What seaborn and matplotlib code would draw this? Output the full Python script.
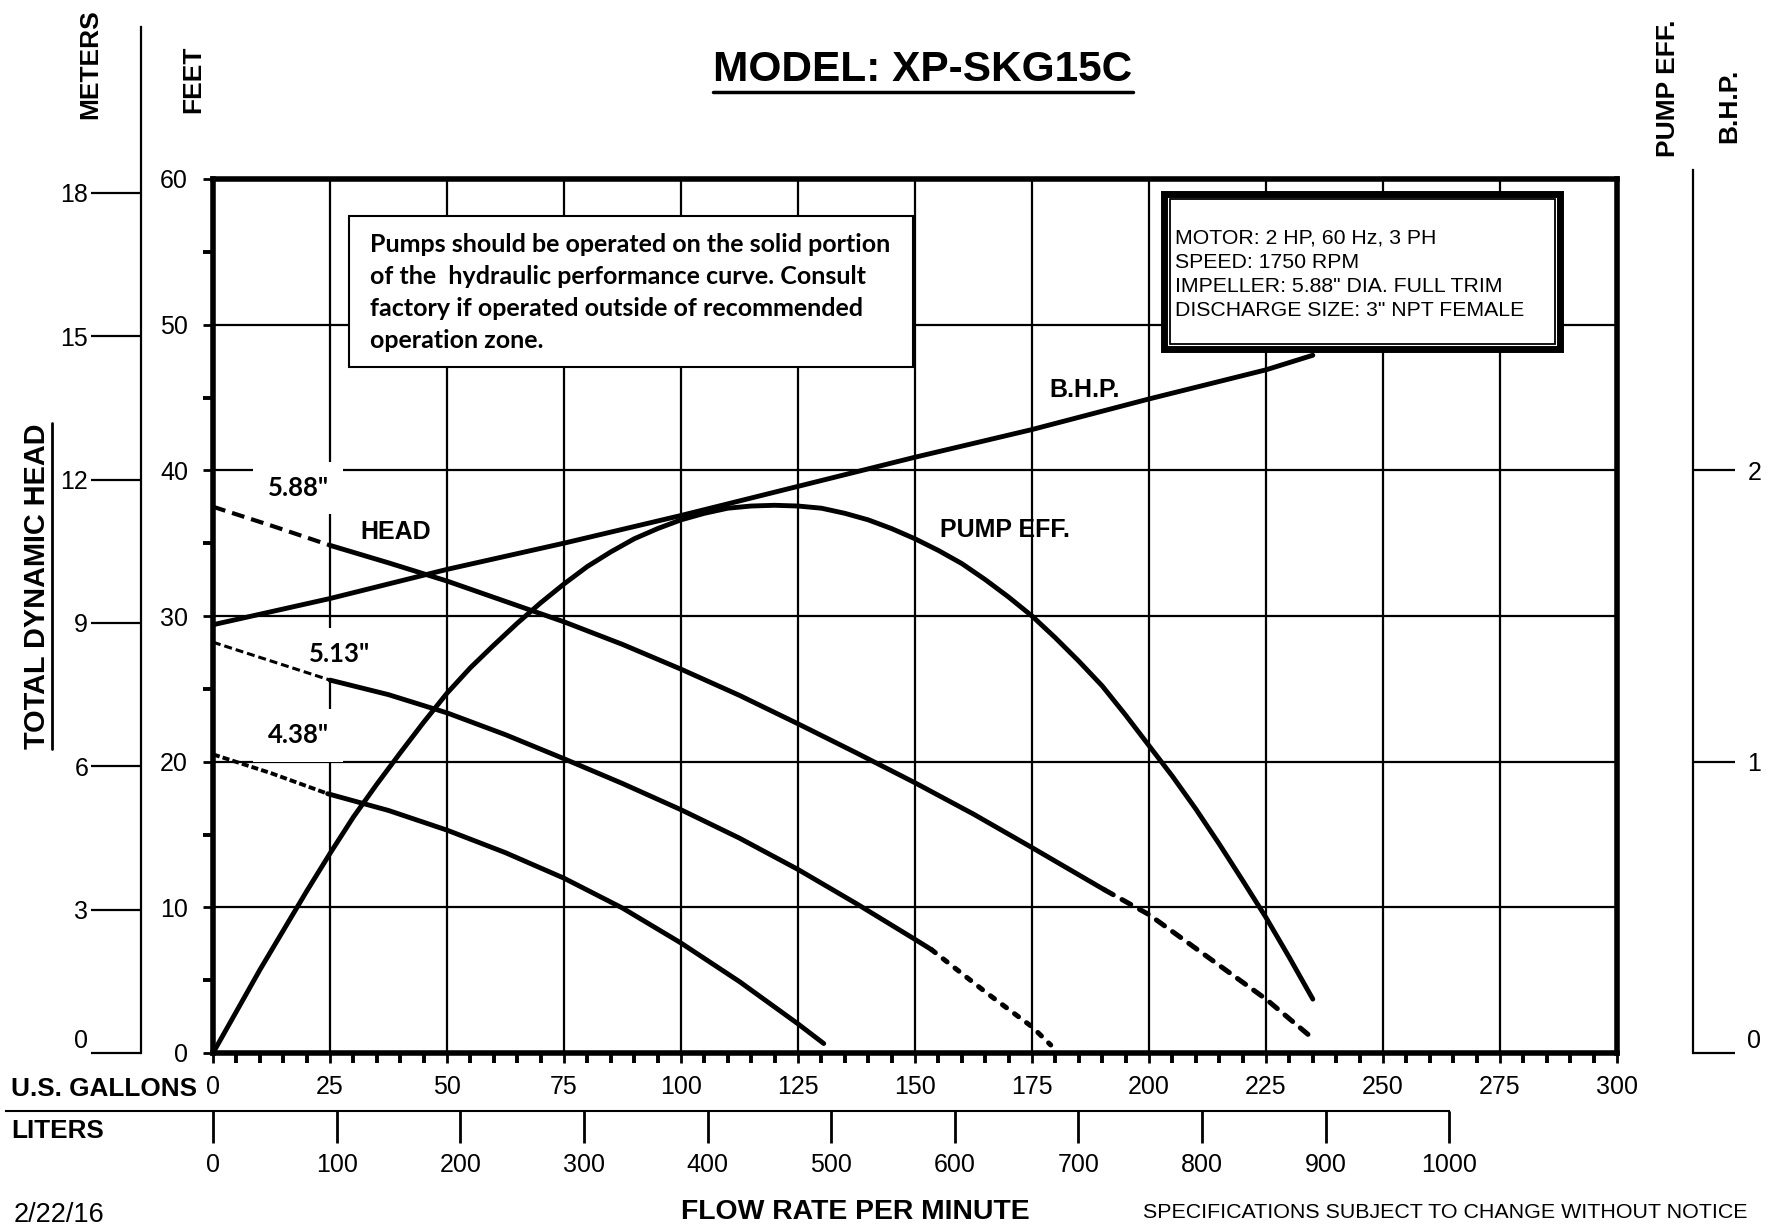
import matplotlib
matplotlib.use("Agg")
import matplotlib.pyplot as plt
from matplotlib.patches import Rectangle
from matplotlib.lines import Line2D
import seaborn as sns

# curves: flow in US gpm, head in feet
flow_588_lo = [0, 12.5, 25]
head_588_lo = [37.5, 36.2, 34.85]
flow_588 = [25, 37.5, 50, 62.5, 75, 87.5, 100, 112.5, 125, 137.5, 150, 162.5, 175, 190.5]
head_588 = [34.85, 33.65, 32.4, 31.0, 29.6, 28.05, 26.35, 24.55, 22.6, 20.6, 18.55, 16.4,
            14.1, 11.2]
flow_588_hi = [190.5, 200, 212.5, 225, 235]
head_588_hi = [11.2, 9.5, 6.6, 3.7, 1.0]

flow_513_lo = [0, 12.5, 25]
head_513_lo = [28.2, 26.9, 25.6]
flow_513 = [25, 37.5, 50, 62.5, 75, 87.5, 100, 112.5, 125, 137.5, 150, 153.5]
head_513 = [25.6, 24.6, 23.35, 21.85, 20.2, 18.5, 16.7, 14.75, 12.6, 10.25, 7.8, 7.1]
flow_513_hi = [153.5, 165, 175, 179]
head_513_hi = [7.1, 4.2, 1.8, 0.55]

flow_438_lo = [0, 12.5, 24.5]
head_438_lo = [20.5, 19.2, 17.8]
flow_438 = [24.5, 37.5, 50, 62.5, 75, 87.5, 100, 112.5, 125, 130.5]
head_438 = [17.8, 16.65, 15.3, 13.75, 12.0, 9.95, 7.55, 4.9, 2.0, 0.65]

# pump efficiency (%)
flow_eff = [0, 10, 20, 25, 30, 35, 40, 45, 50, 55, 60, 65, 70, 75, 80, 85, 90, 95,
            100, 105, 110, 115, 120, 125, 130, 135, 140, 145, 150, 155, 160, 165, 170,
            175, 180, 185, 190, 195, 200, 205, 210, 215, 220, 225, 230, 235]
eff = [0, 5.7, 11.1, 13.7, 16.2, 18.45, 20.6, 22.7, 24.7, 26.45, 28.0, 29.5, 30.9,
       32.2, 33.4, 34.4, 35.3, 36.0, 36.6, 37.05, 37.4, 37.55, 37.6, 37.55, 37.4,
       37.05, 36.6, 36.0, 35.3, 34.5, 33.6, 32.5, 31.3, 30.0, 28.5, 26.9, 25.2, 23.2,
       21.1, 19.0, 16.75, 14.35, 11.85, 9.3, 6.55, 3.7]

# brake horsepower
flow_bhp = [0, 25, 50, 75, 100, 125, 150, 175, 200, 225, 235]
bhp = [1.47, 1.56, 1.66, 1.75, 1.845, 1.945, 2.045, 2.14, 2.245, 2.345, 2.395]

gal_ticks = list(range(0, 301, 25))
feet_ticks = list(range(0, 61, 10))
meter_ticks = list(range(0, 19, 3))
liter_ticks = list(range(0, 1001, 100))
bhp_ticks = [0, 1, 2]

M_PER_FT = 0.3048
L_PER_GAL = 3.78541
HP_FULL = 3  # 3 hp at the top of the 60 ft grid

spec_text = ('MOTOR: 2 HP, 60 Hz, 3 PH\nSPEED: 1750 RPM\n'
             'IMPELLER: 5.88" DIA. FULL TRIM\nDISCHARGE SIZE: 3" NPT FEMALE')
note_text = ('Pumps should be operated on the solid portion\n'
             'of the  hydraulic performance curve. Consult\n'
             'factory if operated outside of recommended\n'
             'operation zone.')

sns.set_style('white', rc={'axes.edgecolor': 'black', 'text.color': 'black',
                           'xtick.color': 'black', 'ytick.color': 'black',
                           'axes.labelcolor': 'black'})
plt.rcParams['font.family'] = ['Liberation Sans', 'DejaVu Sans']
CAL = ['Lato', 'DejaVu Sans']

W, H = 1775, 1225


def fx(px):
    return px / W


def fy(py):
    return 1 - py / H


fig = plt.figure(figsize=(W / 100, H / 100), dpi=100)

# main grid: gallons vs feet
L0, R0, T0, B0 = 213, 1617, 179, 1053
ax = fig.add_axes([fx(L0), fy(B0), fx(R0) - fx(L0), fy(T0) - fy(B0)])
ax.set_xlim(0, 300)
ax.set_ylim(0, 60)
ax.set_xticks(gal_ticks)
ax.set_yticks(feet_ticks)
ax.set_xticks(range(0, 301, 5), minor=True)
ax.set_yticks(range(0, 61, 5), minor=True)
ax.grid(True, which='major', color='black', lw=1.6)
ax.set_axisbelow(True)
for s in ax.spines.values():
    s.set_visible(True)
    s.set_linewidth(4)
ax.tick_params(which='major', direction='out', length=7, width=2, labelsize=18)
ax.tick_params(which='minor', direction='out', length=7, width=2.8)
ax.tick_params(axis='y', which='both', left=True, right=True, labelleft=True,
               labelright=True, pad=11)
ax.tick_params(axis='x', which='both', bottom=True, top=False, pad=9)

solid = dict(color='black', lw=3.5, solid_capstyle='round', solid_joinstyle='round')
sns.lineplot(x=flow_588, y=head_588, ax=ax, **solid)
sns.lineplot(x=flow_513, y=head_513, ax=ax, **solid)
sns.lineplot(x=flow_438, y=head_438, ax=ax, **solid)
sns.lineplot(x=flow_eff, y=eff, ax=ax, **solid)
sns.lineplot(x=flow_588_lo, y=head_588_lo, ax=ax, color='black', lw=3,
             linestyle=(0, (3.1, 1.7)))
sns.lineplot(x=flow_513_lo, y=head_513_lo, ax=ax, color='black', lw=2.2,
             linestyle=(0, (2.6, 1.3)))
sns.lineplot(x=flow_438_lo, y=head_438_lo, ax=ax, color='black', lw=2.8,
             linestyle=(0, (1.8, 0.8)))
sns.lineplot(x=flow_588_hi, y=head_588_hi, ax=ax, color='black', lw=3.6,
             linestyle=(0, (2.0, 2.0)), dash_capstyle='round')
sns.lineplot(x=flow_513_hi, y=head_513_hi, ax=ax, color='black', lw=3.6,
             linestyle=(0, (1.0, 2.0)), dash_capstyle='round')
ax.set_xlabel('')
ax.set_ylabel('')

# bhp drawn on its own 0-3 scale over the same box
axb = ax.twinx()
axb.set_ylim(0, HP_FULL)
sns.lineplot(x=flow_bhp, y=bhp, ax=axb, **solid)
axb.set_axis_off()

# curve labels
lab_box = dict(facecolor='white', edgecolor='none', boxstyle='square,pad=0.55')
ax.text(18.2, 38.8, '5.88"', fontsize=18.5, fontweight='bold', family=CAL,
        ha='center', va='center', bbox=lab_box, zorder=1.5)
ax.text(27.1, 27.4, '5.13"', fontsize=18.5, fontweight='bold', family=CAL,
        ha='center', va='center', bbox=lab_box, zorder=1.5)
ax.text(18.2, 21.8, '4.38"', fontsize=18.5, fontweight='bold', family=CAL,
        ha='center', va='center', bbox=lab_box, zorder=1.5)
ax.text(39, 35.8, 'HEAD', fontsize=18, fontweight='bold', ha='center', va='center')
ax.text(169.2, 35.9, 'PUMP EFF.', fontsize=18, fontweight='bold', ha='center', va='center')
ax.text(186.3, 45.5, 'B.H.P.', fontsize=18, fontweight='bold', ha='center', va='center')

# note box
ax.add_patch(Rectangle((29.06, 47.09), 149.6 - 29.06, 57.46 - 47.09, lw=1.5,
                       ec='black', fc='white', zorder=5))
ax.text(33.5, 52.2, note_text, fontsize=18, fontweight='bold', family=CAL,
        ha='left', va='center', linespacing=1.48, zorder=6)

# spec box with double border
ax.add_patch(Rectangle((203.3, 48.3), 287.9 - 203.3, 58.94 - 48.3, lw=5,
                       ec='black', fc='white', zorder=5))
ax.add_patch(Rectangle((204.5, 48.67), 286.8 - 204.5, 58.63 - 48.67, lw=1.3,
                       ec='black', fc='none', zorder=6))
ax.text(205.6, 53.45, spec_text, fontsize=15.3, ha='left', va='center',
        linespacing=1.33, zorder=7)

h_main = B0 - T0

# meters scale on the far left
MT = 27
axm = fig.add_axes([fx(141), fy(B0), 1e-4, fy(MT) - fy(B0)])
axm.set_ylim(0, 60 * (B0 - MT) / h_main * M_PER_FT)
axm.patch.set_visible(False)
for k in ['top', 'right', 'bottom']:
    axm.spines[k].set_visible(False)
axm.spines['left'].set_linewidth(1.6)
axm.xaxis.set_visible(False)
axm.set_yticks(meter_ticks, labels=[str(v) for v in meter_ticks])
axm.tick_params(axis='y', left=True, right=False, direction='out', length=36,
                width=1.6, labelsize=18, pad=2)
for lbl in axm.get_yticklabels():
    if lbl.get_text() == '0':
        lbl.set_verticalalignment('bottom')

# bhp scale on the far right
HT = 170
axh = fig.add_axes([fx(1693), fy(B0), 1e-4, fy(HT) - fy(B0)])
axh.set_ylim(0, HP_FULL * (B0 - HT) / h_main)
axh.patch.set_visible(False)
for k in ['top', 'left', 'bottom']:
    axh.spines[k].set_visible(False)
axh.spines['right'].set_linewidth(1.6)
axh.xaxis.set_visible(False)
axh.yaxis.tick_right()
axh.set_yticks(bhp_ticks, labels=[str(v) for v in bhp_ticks])
axh.tick_params(axis='y', right=True, left=False, labelright=True, labelleft=False,
                direction='out', length=30, width=1.6, labelsize=18, pad=9)
for lbl in axh.get_yticklabels():
    if lbl.get_text() == '0':
        lbl.set_verticalalignment('bottom')

# liters scale under the gallons
LL, LY = 6, 1111
axl = fig.add_axes([fx(LL), fy(LY), fx(R0) - fx(LL), 1e-4])
l_per_px = 300 * L_PER_GAL / (R0 - L0)
xl0 = -(L0 - LL) * l_per_px
axl.set_xlim(xl0, 300 * L_PER_GAL)
axl.patch.set_visible(False)
for k in ['top', 'left', 'right']:
    axl.spines[k].set_visible(False)
axl.spines['bottom'].set_linewidth(1.5)
axl.spines['bottom'].set_bounds(xl0, liter_ticks[-1])
axl.yaxis.set_visible(False)
axl.set_xticks(liter_ticks)
axl.tick_params(axis='x', bottom=True, top=False, direction='out', length=23,
                width=2, labelsize=18, pad=7)

# page texts
title = fig.text(fx(923), fy(70), 'MODEL: XP-SKG15C', fontsize=30.5, fontweight='bold',
                 ha='center', va='center')
fig.text(fx(90), fy(64), 'METERS', fontsize=19, fontweight='bold', rotation=90,
         ha='center', va='center')
fig.text(fx(193), fy(79), 'FEET', fontsize=19, fontweight='bold', rotation=90,
         ha='center', va='center')
tdh = fig.text(fx(37), fy(586), 'TOTAL DYNAMIC HEAD', fontsize=20.8, fontweight='bold',
               rotation=90, ha='center', va='center')
fig.text(fx(1668), fy(88), 'PUMP EFF.', fontsize=19, fontweight='bold', rotation=90,
         ha='center', va='center')
fig.text(fx(1729), fy(106), 'B.H.P.', fontsize=19, fontweight='bold', rotation=90,
         ha='center', va='center')
fig.text(fx(11), fy(1089), 'U.S. GALLONS', fontsize=18.8, fontweight='bold',
         ha='left', va='center')
fig.text(fx(11), fy(1131), 'LITERS', fontsize=18.8, fontweight='bold',
         ha='left', va='center')
fig.text(fx(14), fy(1215), '2/22/16', fontsize=19.5, ha='left', va='center')
fig.text(fx(855), fy(1212), 'FLOW RATE PER MINUTE', fontsize=20.4, fontweight='bold',
         ha='center', va='center')
fig.text(fx(1143), fy(1212), 'SPECIFICATIONS SUBJECT TO CHANGE WITHOUT NOTICE',
         fontsize=15.4, ha='left', va='center')

# underlines
fig.canvas.draw()
r = fig.canvas.get_renderer()
bb = title.get_window_extent(r)
fig.add_artist(Line2D([bb.x0 / W, bb.x1 / W], [(bb.y0 - 2) / H, (bb.y0 - 2) / H],
                      color='black', lw=2.5, transform=fig.transFigure))
bb = tdh.get_window_extent(r)
fig.add_artist(Line2D([(bb.x1 + 1) / W, (bb.x1 + 1) / W], [bb.y0 / H, bb.y1 / H],
                      color='black', lw=2, transform=fig.transFigure))

fig.savefig('out.png', dpi=100)
